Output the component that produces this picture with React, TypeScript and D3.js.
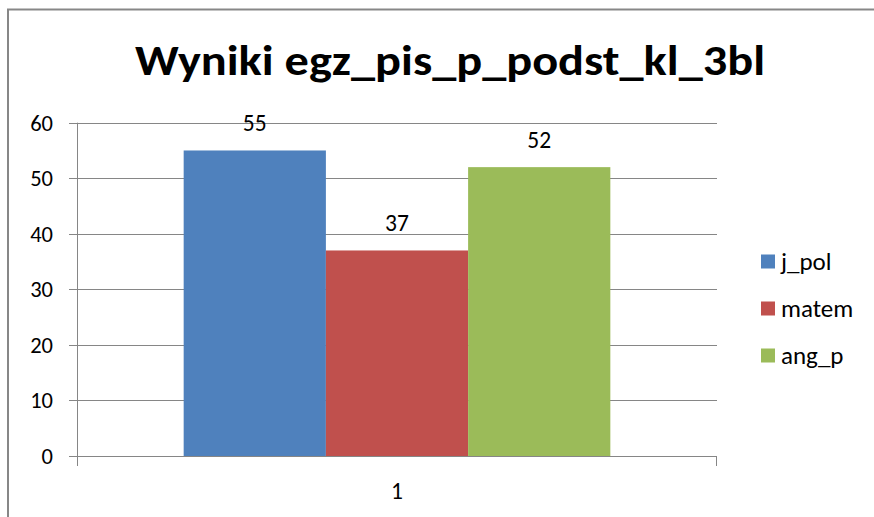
import * as d3 from 'd3'

const categories = ['1']
const series = ['j_pol', 'matem', 'ang_p']
const values = [55, 37, 52]
const colors = ['#4F81BD', '#C0504D', '#9BBB59']
const yTicks = [0, 10, 20, 30, 40, 50, 60]
const title = 'Wyniki egz_pis_p_podst_kl_3bl'

const width = 874
const height = 517
const plotLeft = 77
const plotRight = 717
const plotTop = 122.7
const plotBottom = 456

const font = 'Carlito, Calibri, Lato, sans-serif'

export default function App() {
  const y = d3.scaleLinear([0, 60], [plotBottom, plotTop])
  const x = d3.scaleBand(categories, [plotLeft, plotRight])
  // Excel gap width 150% -> 0.75 bar widths on each side
  const xs = d3
    .scaleBand(series, [0, x.bandwidth()])
    .paddingInner(0)
    .paddingOuter(0.75)
  const legendY = d3.scalePoint(series, [261.5, 355.5])

  return (
    <svg
      width={width}
      height={height}
      style={{ position: 'absolute', left: 0, top: 0, background: '#fff' }}
      fontFamily={font}
    >
      <rect x={0} y={0} width={width} height={height} fill="#fff" />
      {/* chart border, runs off the right/bottom edge */}
      <path d={`M8,${height + 5}V9.5H${width + 5}`} fill="none" stroke="#878787" strokeWidth={2} />

      <text
        x={450}
        y={75}
        textAnchor="middle"
        fontSize={42}
        fontWeight="bold"
        textLength={630}
        lengthAdjust="spacingAndGlyphs"
        fill="#000"
      >
        {title}
      </text>

      {/* gridlines + y ticks */}
      <g stroke="#868686" strokeWidth={1}>
        {yTicks.map((t) => (
          <line key={t} x1={plotLeft - 8} x2={plotRight} y1={Math.round(y(t)) + 0.5} y2={Math.round(y(t)) + 0.5} />
        ))}
      </g>
      <g fontSize={22.5} fill="#000" textAnchor="end">
        {yTicks.map((t) => (
          <text key={t} x={53} y={y(t) + 8}>
            {t}
          </text>
        ))}
      </g>

      {/* bars */}
      {categories.map((c) => (
        <g key={c} transform={`translate(${x(c)},0)`}>
          {series.map((s, i) => (
            <rect
              key={s}
              x={xs(s)}
              y={y(values[i])}
              width={xs.bandwidth()}
              height={y(0) - y(values[i])}
              fill={colors[i]}
            />
          ))}
          {series.map((s, i) => (
            <text
              key={s}
              x={(xs(s) ?? 0) + xs.bandwidth() / 2}
              y={y(values[i]) - 19}
              textAnchor="middle"
              fontSize={23.5}
              fill="#000"
            >
              {values[i]}
            </text>
          ))}
        </g>
      ))}

      {/* axes */}
      <g stroke="#868686" strokeWidth={1}>
        <line x1={plotLeft + 0.5} x2={plotLeft + 0.5} y1={plotTop} y2={plotBottom + 10} />
        <line x1={plotLeft - 8} x2={plotRight} y1={Math.round(plotBottom) + 0.5} y2={Math.round(plotBottom) + 0.5} />
        <line x1={plotRight - 0.5} x2={plotRight - 0.5} y1={plotBottom} y2={plotBottom + 10} />
      </g>
      {categories.map((c) => (
        <text
          key={c}
          x={(x(c) ?? 0) + x.bandwidth() / 2}
          y={499}
          textAnchor="middle"
          fontSize={23.5}
          fill="#000"
        >
          {c}
        </text>
      ))}

      {/* legend */}
      {series.map((s, i) => (
        <g key={s} transform={`translate(761,${legendY(s)})`}>
          <rect x={0} y={-7} width={14} height={14} fill={colors[i]} />
          <text x={20} y={8} fontSize={25} fill="#000">
            {s}
          </text>
        </g>
      ))}
    </svg>
  )
}
